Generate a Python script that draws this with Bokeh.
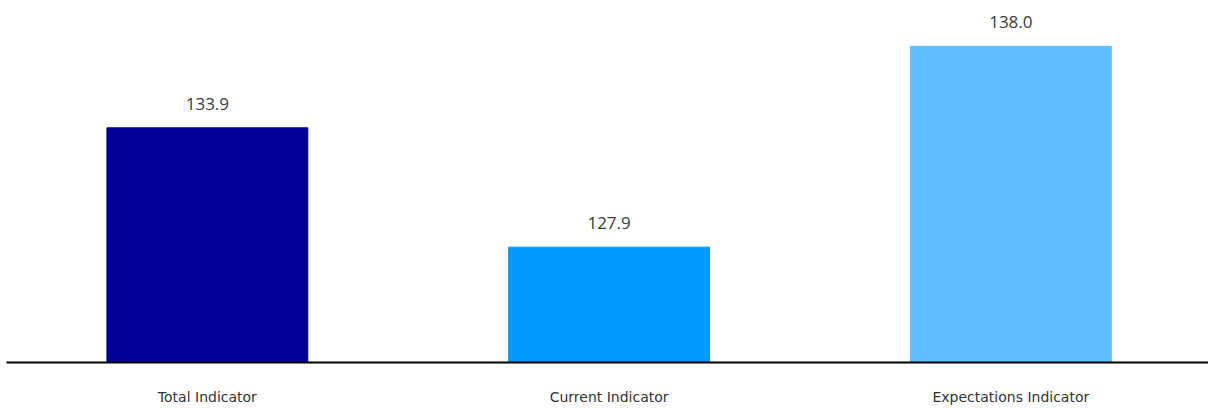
from bokeh.plotting import figure
from bokeh.models import Range1d, ColumnDataSource
from bokeh.core.properties import value
from bokeh.embed import file_html
from bokeh.resources import INLINE

# Indicator values
categories = ["Total Indicator", "Current Indicator", "Expectations Indicator"]
values = [133.9, 127.9, 138.0]
colors = ["#000099", "#0099ff", "#60beff"]

y_start, y_end = 122.1, 140.3
xs = list(range(len(categories)))

source = ColumnDataSource(dict(
    x=xs,
    top=values,
    color=colors,
    label=[f"{v:.1f}" for v in values],
))

p = figure(
    width=1208, height=408,
    x_range=Range1d(-0.5, 2.492),
    y_range=Range1d(y_start, y_end),
    output_backend="svg", toolbar_location=None,
    min_border_left=6, min_border_right=0,
    min_border_top=0, min_border_bottom=46,
)

p.vbar(x="x", top="top", bottom=y_start, width=0.5, color="color", source=source)

p.text(x="x", y="top", text="label", source=source,
       text_align="center", text_baseline="bottom", y_offset=-18,
       text_font=value("Open Sans"), text_font_size="17px", text_color="#3a3a3a")

p.yaxis.visible = False
p.xgrid.visible = False
p.ygrid.visible = False
p.outline_line_color = None

ax = p.xaxis[0]
ax.ticker = xs
ax.major_label_overrides = {i: c for i, c in enumerate(categories)}
ax.axis_line_color = "#000000"
ax.axis_line_width = 2
ax.major_tick_line_color = None
ax.minor_tick_line_color = None
ax.major_tick_out = 0
ax.major_label_standoff = 26
ax.major_label_text_font = "DejaVu Sans"
ax.major_label_text_font_size = "14px"
ax.major_label_text_color = "#333333"

open("out.html", "w").write(file_html(p, INLINE))
